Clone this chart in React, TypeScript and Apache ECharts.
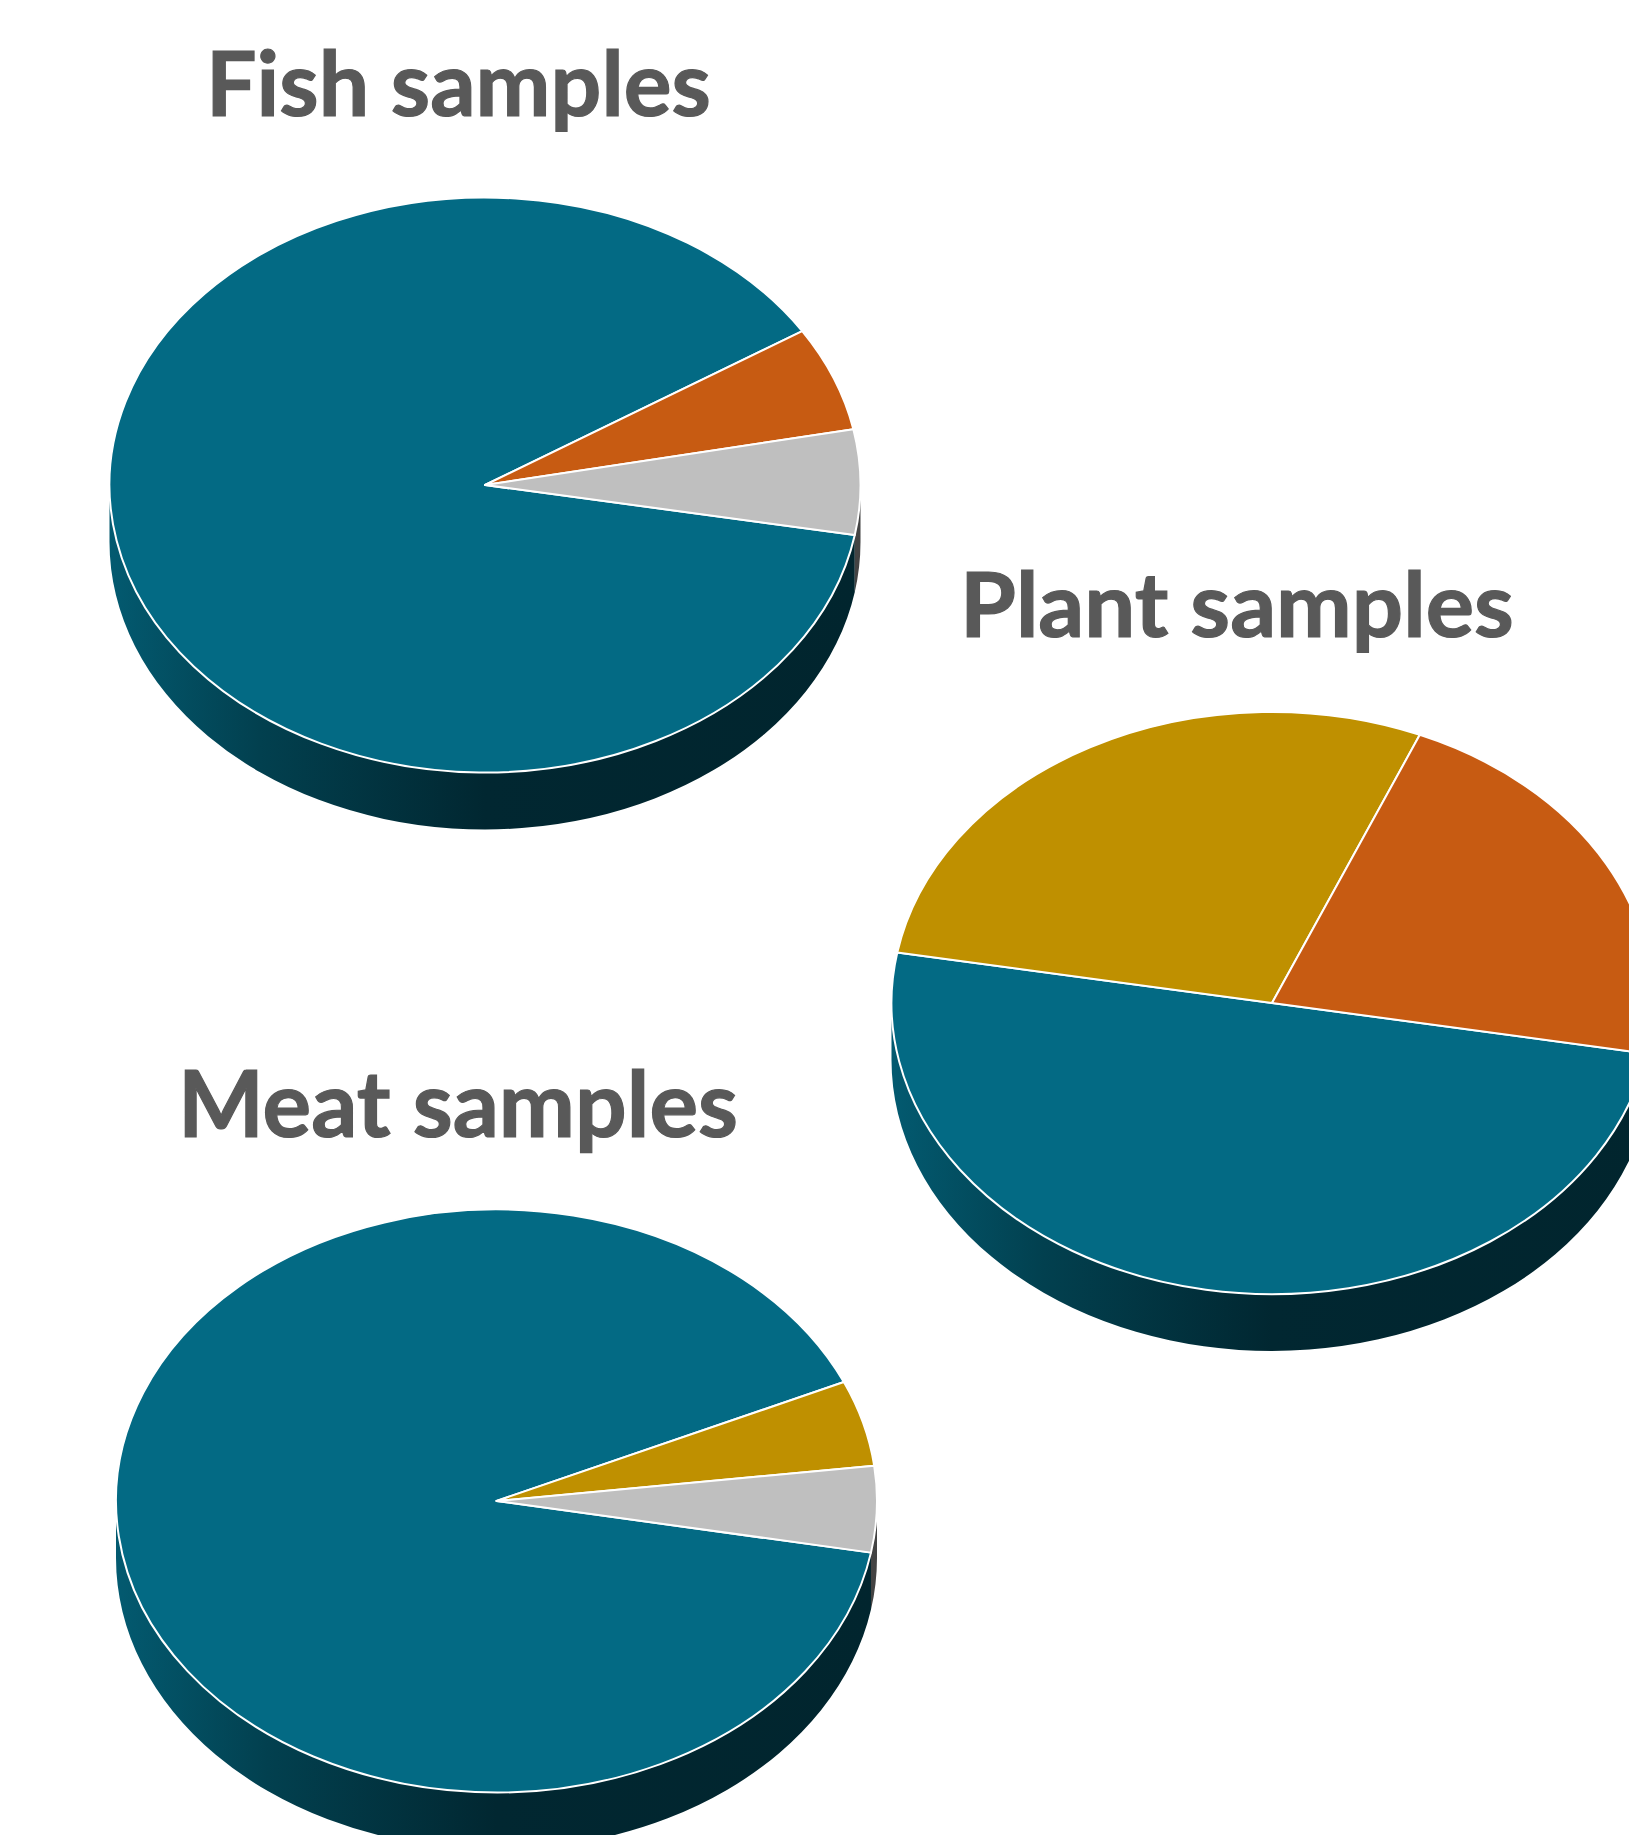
import React, { useEffect, useRef } from "react";
import * as echarts from "echarts";

// Sample counts per pie, clockwise from each pie's first edge
const fishCounts = [15, 1, 1];
const plantCounts = [7, 4, 3];
const meatCounts = [19, 1, 1];

const fishColours = ["#036A84", "#C75B12", "#BFBFBF"];
const plantColours = ["#036A84", "#BF9000", "#C75B12"];
const meatColours = ["#036A84", "#BF9000", "#BFBFBF"];

const titles = ["Fish samples", "Plant samples", "Meat samples"];

type Pie = {
  counts: number[];
  colours: string[];
  cx: number;
  cy: number;
  rx: number;
  ry: number;
  depth: number;
  startDeg: number;
};

const pies: Pie[] = [
  { counts: fishCounts, colours: fishColours, cx: 485, cy: 485, rx: 375.5, ry: 287.5, depth: 57, startDeg: -10 },
  { counts: plantCounts, colours: plantColours, cx: 1272, cy: 1003, rx: 380.5, ry: 291, depth: 57, startDeg: -10 },
  { counts: meatCounts, colours: meatColours, cx: 496.5, cy: 1501, rx: 380.5, ry: 291.5, depth: 57, startDeg: -10.2 },
];

const shade = (hex: string, f: number) => {
  const n = parseInt(hex.slice(1), 16);
  const ch = (s: number) => Math.round(((n >> s) & 255) * f);
  return `rgb(${ch(16)},${ch(8)},${ch(0)})`;
};

// Start and end angle (degrees, decreasing = clockwise) of every slice
const sliceAngles = (pie: Pie) => {
  const total = pie.counts.reduce((a, b) => a + b, 0);
  let a = pie.startDeg;
  return pie.counts.map((c) => {
    const span = (c / total) * 360;
    const r = [a, a - span];
    a -= span;
    return r;
  });
};

const rimPoint = (pie: Pie, deg: number, dy = 0) => {
  const t = (deg * Math.PI) / 180;
  return [pie.cx + pie.rx * Math.cos(t), pie.cy - pie.ry * Math.sin(t) + dy];
};

const topPath = (pie: Pie, a: number, b: number) => {
  const p = rimPoint(pie, a);
  const q = rimPoint(pie, b);
  const large = a - b > 180 ? 1 : 0;
  return `M${pie.cx} ${pie.cy}L${p[0]} ${p[1]}A${pie.rx} ${pie.ry} 0 ${large} 1 ${q[0]} ${q[1]}Z`;
};

// Side wall: the parts of a slice's rim that face the viewer
const wallPaths = (pie: Pie, a: number, b: number) => {
  const out: string[] = [];
  for (let k = -2; k <= 1; k++) {
    const hi = Math.min(a, 360 * k);
    const lo = Math.max(b, 360 * k - 180);
    if (hi - lo <= 0.01) continue;
    const p = rimPoint(pie, hi);
    const q = rimPoint(pie, lo);
    const q2 = rimPoint(pie, lo, pie.depth);
    const p2 = rimPoint(pie, hi, pie.depth);
    out.push(
      `M${p[0]} ${p[1]}A${pie.rx} ${pie.ry} 0 0 1 ${q[0]} ${q[1]}L${q2[0]} ${q2[1]}A${pie.rx} ${pie.ry} 0 0 0 ${p2[0]} ${p2[1]}Z`
    );
  }
  return out;
};

const wallFill = (pie: Pie, colour: string) =>
  new echarts.graphic.LinearGradient(
    pie.cx - pie.rx,
    0,
    pie.cx + pie.rx,
    0,
    [
      { offset: 0, color: shade(colour, 0.85) },
      { offset: 0.2, color: shade(colour, 0.6) },
      { offset: 0.5, color: shade(colour, 0.37) },
      { offset: 1, color: shade(colour, 0.35) },
    ],
    true
  );

const wallSeries = (pie: Pie) => {
  const angles = sliceAngles(pie);
  return {
    type: "custom",
    coordinateSystem: "none",
    silent: true,
    z: 1,
    data: pie.counts.map((c) => [c]),
    renderItem: (params: any) => {
      const [a, b] = angles[params.dataIndex];
      const fill = wallFill(pie, pie.colours[params.dataIndex]);
      return {
        type: "group",
        children: wallPaths(pie, a, b).map((d) => ({
          type: "path",
          shape: { pathData: d },
          style: { fill },
        })),
      };
    },
  };
};

const topSeries = (pie: Pie) => {
  const angles = sliceAngles(pie);
  return {
    type: "custom",
    coordinateSystem: "none",
    silent: true,
    z: 2,
    data: pie.counts.map((c) => [c]),
    renderItem: (params: any) => {
      const [a, b] = angles[params.dataIndex];
      return {
        type: "path",
        shape: { pathData: topPath(pie, a, b) },
        style: {
          fill: pie.colours[params.dataIndex],
          stroke: "#FFFFFF",
          lineWidth: 2,
          lineJoin: "round",
        },
      };
    },
  };
};

const titleBox = [
  { left: 206, top: 36, size: 89.5 },
  { left: 960, top: 556, size: 90.5 },
  { left: 178, top: 1056, size: 91 },
];

export default function App() {
  const ref = useRef<HTMLDivElement>(null);
  useEffect(() => {
    const chart = echarts.init(ref.current!, undefined, { renderer: "svg" });
    chart.setOption({
      animation: false,
      backgroundColor: "#FFFFFF",
      title: titles.map((text, i) => ({
        text,
        left: titleBox[i].left,
        top: titleBox[i].top,
        padding: 0,
        textStyle: {
          fontFamily: "Lato",
          fontWeight: 700,
          fontSize: titleBox[i].size,
          color: "#595959",
          textBorderColor: "#595959",
          textBorderWidth: 1.2,
        },
      })),
      series: pies.flatMap((p) => [wallSeries(p), topSeries(p)]),
    });
    return () => chart.dispose();
  }, []);
  return (
    <div
      ref={ref}
      style={{ position: "absolute", left: 0, top: 0, width: 1629, height: 1835, overflow: "hidden" }}
    />
  );
}
